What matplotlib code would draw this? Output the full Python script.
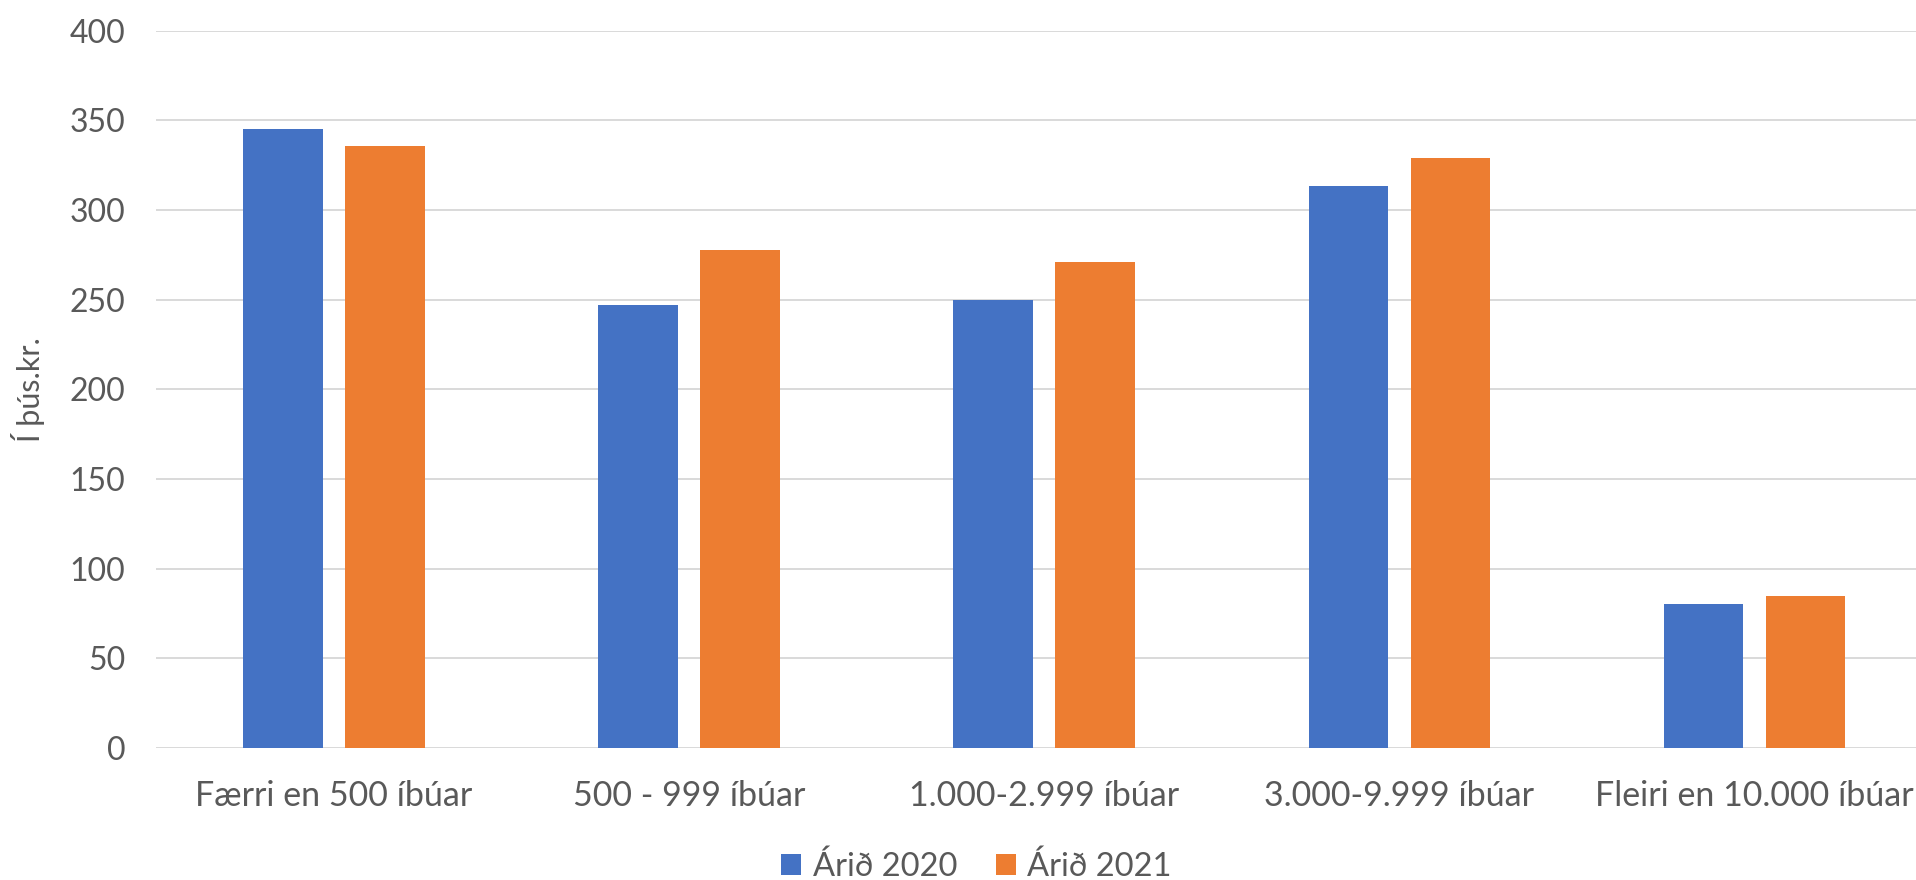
import matplotlib
matplotlib.use('Agg')
import matplotlib.pyplot as plt
import numpy as np

# data
categories = ['Færri en 500 íbúar', '500 - 999 íbúar', '1.000-2.999 íbúar',
              '3.000-9.999 íbúar', 'Fleiri en 10.000 íbúar']
series_names = ['Árið 2020', 'Árið 2021']
values_2020 = [345, 247, 250, 313.5, 80.5]
values_2021 = [335.5, 277.5, 271, 329, 85]
y_ticks = [0, 50, 100, 150, 200, 250, 300, 350, 400]

blue = '#4472C4'
orange = '#ED7D31'
text_col = '#595959'
grid_col = '#D9D9D9'

plt.rcParams['font.family'] = ['Lato', 'DejaVu Sans']

fig = plt.figure(figsize=(19.16, 8.8), dpi=100)
ax = fig.add_axes([0.0815, 0.15, 1.0085 - 0.0815, 0.9653 - 0.15])

x = np.arange(len(categories))
w = 0.224
off = 0.1436
b1 = ax.bar(x - off, values_2020, w, color=blue, label=series_names[0], zorder=3)
b2 = ax.bar(x + off, values_2021, w, color=orange, label=series_names[1], zorder=3)

ax.set_xlim(-0.5, len(categories) - 0.5)
ax.set_ylim(0, 400)
ax.set_yticks(y_ticks)
ax.set_xticks(x)
ax.set_xticklabels(categories)

ax.yaxis.grid(True, color=grid_col, linewidth=1.4, zorder=0)
ax.set_axisbelow(True)
for s in ax.spines.values():
    s.set_visible(False)
ax.tick_params(axis='both', length=0, colors=text_col)
ax.tick_params(axis='y', pad=22, labelsize=23)
ax.tick_params(axis='x', pad=23, labelsize=24.5)

ax.set_ylabel('Í þús.kr.', fontsize=22, color=text_col, labelpad=18)

fig.legend(handles=[b1, b2], labels=series_names, loc='center',
           bbox_to_anchor=(0.5097, 0.015), ncol=2, frameon=False,
           fontsize=23.5, labelcolor=text_col, handlelength=0.6, handleheight=0.6,
           handletextpad=0.35, columnspacing=1.2)

fig.savefig('out.png', dpi=100)
